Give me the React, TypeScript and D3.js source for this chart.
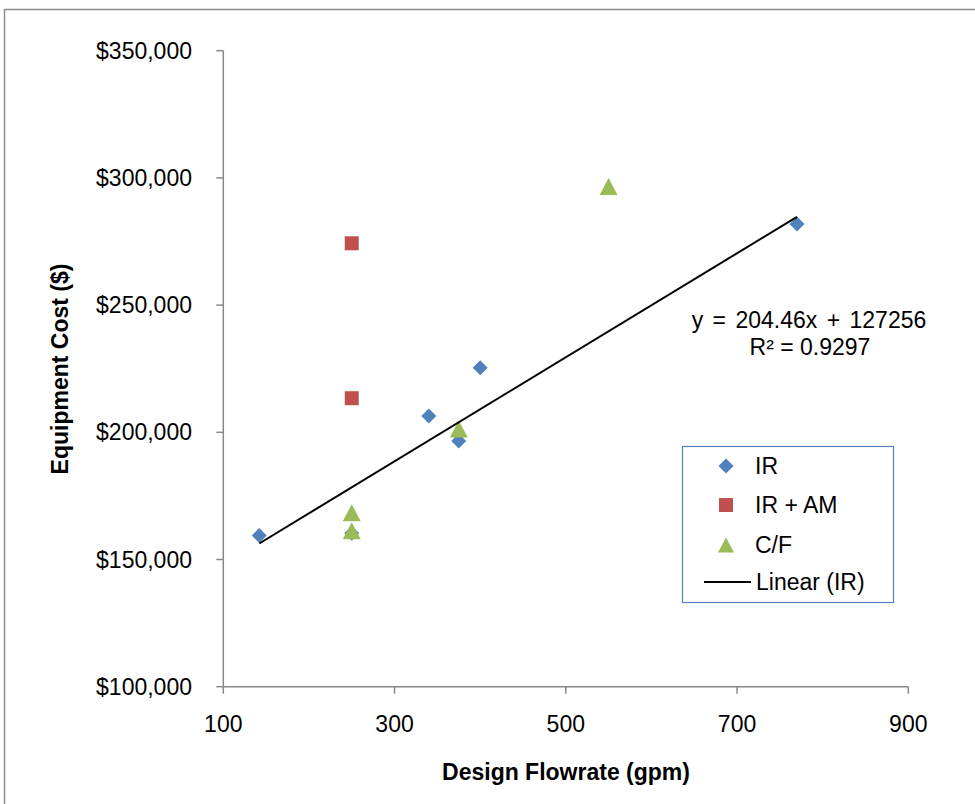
import React from "react";
import * as d3 from "d3";

const irX = [142, 250, 340, 375, 400, 770];
const irY = [159400, 160300, 206400, 196600, 225400, 281900];
const amX = [250, 250];
const amY = [274300, 213400];
const cfX = [550, 250, 250, 375];
const cfY = [296600, 168400, 161300, 201300];
const xTicks = [100, 300, 500, 700, 900];
const yTicks = [100000, 150000, 200000, 250000, 300000, 350000];
const trendSlope = 204.46;
const trendIntercept = 127256;
const legendLabels = ["IR", "IR + AM", "C/F", "Linear (IR)"];

const W = 975;
const H = 804;
const FONT = "'Liberation Sans', Arial, sans-serif";
const C_IR = "#4F81BD";
const C_AM = "#C0504D";
const C_CF = "#9BBB59";
const AXIS = "#888888";
const FS = 23;

export default function App() {
  const x = d3.scaleLinear().domain([100, 900]).range([223.3, 908.3]);
  const y = d3.scaleLinear().domain([100000, 350000]).range([686.7, 50.7]);
  const fmt = (v: number) => "$" + d3.format(",")(v);

  const diamond = d3.symbol().type(d3.symbolSquare).size(112)();
  const square = d3.symbol().type(d3.symbolSquare).size(196)();
  const tri = (cx: number, cy: number, w = 18, h = 17) =>
    `M${cx},${cy - h / 2}L${cx + w / 2},${cy + h / 2}L${cx - w / 2},${cy + h / 2}Z`;

  const xMin = d3.min(irX) as number;
  const xMax = d3.max(irX) as number;
  const line = d3
    .line<number>()
    .x((d) => x(d))
    .y((d) => y(trendSlope * d + trendIntercept));

  const legX = 682.5;
  const legY = 446.5;
  const legRows = [466, 505, 545, 582];

  return (
    <svg
      width={W}
      height={H}
      style={{ position: "absolute", left: 0, top: 0, display: "block", background: "#fff" }}
      fontFamily={FONT}
    >
      <rect x={4.5} y={9.5} width={W} height={H} fill="#fff" stroke="#8c8c8c" strokeWidth={1.5} />

      {/* axes */}
      <line x1={x(100)} x2={x(900)} y1={y(100000)} y2={y(100000)} stroke={AXIS} strokeWidth={1.5} />
      <line x1={x(100)} x2={x(100)} y1={y(100000)} y2={y(350000)} stroke={AXIS} strokeWidth={1.5} />
      {xTicks.map((t) => (
        <g key={"xt" + t}>
          <line x1={x(t)} x2={x(t)} y1={y(100000)} y2={y(100000) + 7} stroke={AXIS} strokeWidth={1.5} />
          <text x={x(t)} y={732} textAnchor="middle" fontSize={FS} fill="#000">
            {t}
          </text>
        </g>
      ))}
      {yTicks.map((t) => (
        <g key={"yt" + t}>
          <line x1={x(100) - 7} x2={x(100)} y1={y(t)} y2={y(t)} stroke={AXIS} strokeWidth={1.5} />
          <text x={192} y={y(t) + 8} textAnchor="end" fontSize={FS} fill="#000">
            {fmt(t)}
          </text>
        </g>
      ))}

      <text x={566} y={780} textAnchor="middle" fontSize={FS} fontWeight="bold">
        Design Flowrate (gpm)
      </text>
      <text
        transform={`translate(68,369) rotate(-90)`}
        textAnchor="middle"
        fontSize={FS}
        fontWeight="bold"
      >
        Equipment Cost ($)
      </text>

      {/* points */}
      {irX.map((d, i) => (
        <path
          key={"ir" + i}
          d={diamond}
          transform={`translate(${x(d)},${y(irY[i])}) rotate(45)`}
          fill={C_IR}
        />
      ))}
      {amX.map((d, i) => (
        <path key={"am" + i} d={square} transform={`translate(${x(d)},${y(amY[i])})`} fill={C_AM} />
      ))}
      {cfX.map((d, i) => (
        <path key={"cf" + i} d={tri(x(d), y(cfY[i]))} fill={C_CF} />
      ))}

      {/* trend line */}
      <path d={line([xMin, xMax]) || ""} fill="none" stroke="#000" strokeWidth={2} />

      <text x={809} y={328} textAnchor="middle" fontSize={FS} wordSpacing={3}>
        y = 204.46x + 127256
      </text>
      <text x={810} y={355} textAnchor="middle" fontSize={FS}>
        R² = 0.9297
      </text>

      {/* legend */}
      <rect x={legX} y={legY} width={211} height={156} fill="#fff" stroke="#4F81BD" strokeWidth={1.2} />
      <path d={diamond} transform={`translate(726,${legRows[0]}) rotate(45)`} fill={C_IR} />
      <path d={square} transform={`translate(726,${legRows[1]})`} fill={C_AM} />
      <path d={tri(726, legRows[2], 16, 15)} fill={C_CF} />
      <line x1={704} x2={751} y1={legRows[3]} y2={legRows[3]} stroke="#000" strokeWidth={2} />
      {legendLabels.map((l, i) => (
        <text key={l} x={i === 3 ? 756 : 755} y={legRows[i] + 8} fontSize={FS}>
          {l}
        </text>
      ))}
    </svg>
  );
}
